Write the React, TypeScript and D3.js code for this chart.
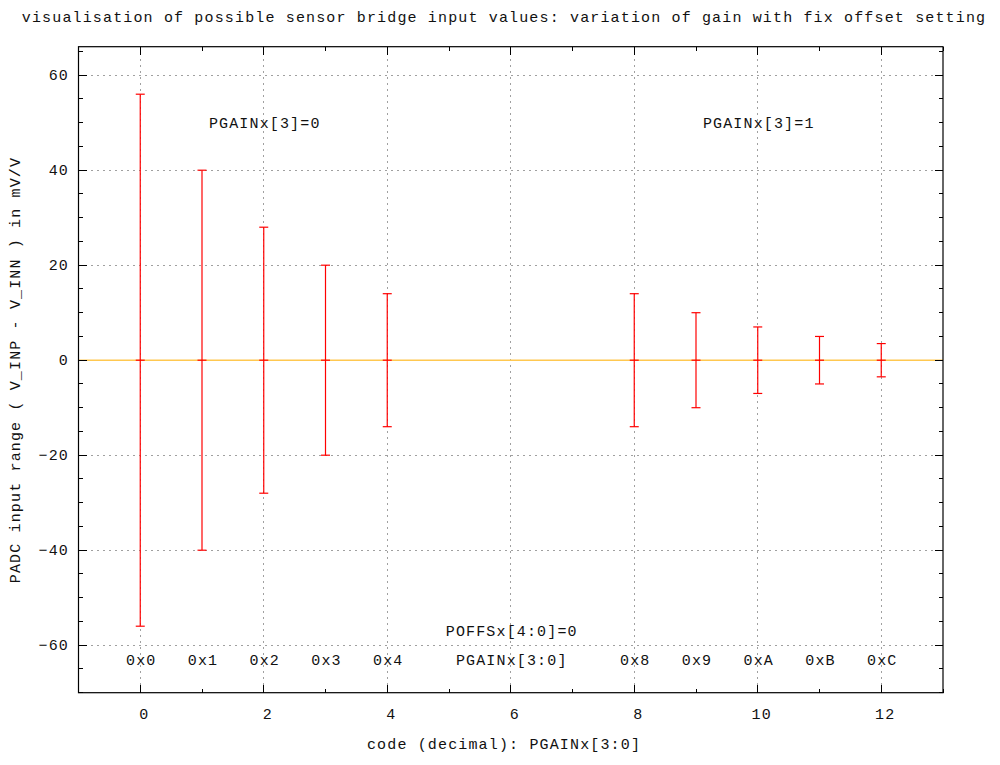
import React from "react";
import { scaleLinear, range } from "d3";

const width = 1000;
const height = 765;
const left = 78.5;
const right = 943;
const top = 46.7;
const bottom = 692.7;

// gain codes and their +/- input range in mV/V
const codes = [0, 1, 2, 3, 4, 8, 9, 10, 11, 12];
const halfRange = [56, 40, 28, 20, 14, 14, 10, 7, 5, 3.5];
const hexLabels = ["0x0", "0x1", "0x2", "0x3", "0x4", "0x8", "0x9", "0xA", "0xB", "0xC"];

const xTicks = [0, 2, 4, 6, 8, 10, 12];
const yTicks = [-60, -40, -20, 0, 20, 40, 60];

const notes = [
  { text: "PGAINx[3]=0", x: 2, y: 50 },
  { text: "PGAINx[3]=1", x: 10, y: 50 },
  { text: "POFFSx[4:0]=0", x: 6, y: -57 },
  { text: "PGAINx[3:0]", x: 6, y: -63 },
];
const hexY = -63;

const title =
  "visualisation of possible sensor bridge input values: variation of gain with fix offset setting";
const xTitle = "code (decimal): PGAINx[3:0]";
const yTitle = "PADC input range ( V_INP - V_INN ) in mV/V";

const x = scaleLinear().domain([-1, 13]).range([left, right]);
const y = scaleLinear().domain([-70, 66]).range([bottom, top]);

const font = {
  fontFamily: "'Liberation Mono', 'DejaVu Sans Mono', monospace",
  fontSize: 15,
  letterSpacing: "1.15px",
  fill: "#111",
};

const App = () => {
  const xMinor = range(-1, 14, 1);
  const yMinor = range(-70, 66, 5);
  const cap = 4.5;
  return (
    <svg
      width={width}
      height={height}
      style={{ position: "absolute", left: 0, top: 0, background: "#fff" }}
    >
      <text x={504} y={22} textAnchor="middle" style={font}>
        {title}
      </text>

      {/* grid */}
      <g stroke="#a0a0a0" strokeWidth={1} strokeDasharray="2,4" shapeRendering="crispEdges">
        {xTicks.map((t) => (
          <line key={"gx" + t} x1={x(t)} x2={x(t)} y1={top} y2={bottom} />
        ))}
        {yTicks.map((t) => (
          <line key={"gy" + t} x1={left} x2={right} y1={y(t)} y2={y(t)} />
        ))}
      </g>

      {/* zero line */}
      <line x1={left} x2={right} y1={y(0)} y2={y(0)} stroke="#ffc850" strokeWidth={1.5} />

      {/* error bars */}
      <g stroke="#ff0000" strokeWidth={1.2}>
        {codes.map((c, i) => {
          const cx = x(c);
          const lo = y(-halfRange[i]);
          const hi = y(halfRange[i]);
          return (
            <g key={"e" + c}>
              <line x1={cx} x2={cx} y1={lo} y2={hi} />
              <line x1={cx - cap} x2={cx + cap} y1={lo} y2={lo} />
              <line x1={cx - cap} x2={cx + cap} y1={hi} y2={hi} />
              <line x1={cx - cap} x2={cx + cap} y1={y(0)} y2={y(0)} />
            </g>
          );
        })}
      </g>

      {/* ticks, inward on all sides */}
      <g stroke="#000" strokeWidth={1} shapeRendering="crispEdges">
        {xMinor.map((t) => {
          const len = t % 2 === 0 ? 8 : 4;
          return (
            <g key={"tx" + t}>
              <line x1={x(t)} x2={x(t)} y1={bottom} y2={bottom - len} />
              <line x1={x(t)} x2={x(t)} y1={top} y2={top + len} />
            </g>
          );
        })}
        {yMinor.map((t) => {
          const len = t % 20 === 0 ? 8 : 4;
          return (
            <g key={"ty" + t}>
              <line x1={left} x2={left + len} y1={y(t)} y2={y(t)} />
              <line x1={right} x2={right - len} y1={y(t)} y2={y(t)} />
            </g>
          );
        })}
      </g>

      <rect
        x={left}
        y={top}
        width={right - left}
        height={bottom - top}
        fill="none"
        stroke="#000"
        strokeWidth={1.2}
      />

      {/* tick labels */}
      {xTicks.map((t) => (
        <text key={"lx" + t} x={x(t) + 4} y={719} textAnchor="middle" style={font}>
          {t}
        </text>
      ))}
      {yTicks.map((t) => (
        <text key={"ly" + t} x={69} y={y(t) + 5} textAnchor="end" style={font}>
          {t === 0 ? "0" : t < 0 ? "\u2212" + Math.abs(t) : t}
        </text>
      ))}

      {/* in-plot labels */}
      {codes.map((c, i) => (
        <text key={"h" + c} x={x(c) + 1} y={y(hexY) + 5.5} textAnchor="middle" style={font}>
          {hexLabels[i]}
        </text>
      ))}
      {notes.map((n) => (
        <text key={n.text} x={x(n.x) + 1} y={y(n.y) + 5.5} textAnchor="middle" style={font}>
          {n.text}
        </text>
      ))}

      <text x={504} y={749} textAnchor="middle" style={font}>
        {xTitle}
      </text>
      <text
        transform={`translate(20, 370) rotate(-90)`}
        textAnchor="middle"
        style={font}
      >
        {yTitle}
      </text>
    </svg>
  );
};

export default App;
